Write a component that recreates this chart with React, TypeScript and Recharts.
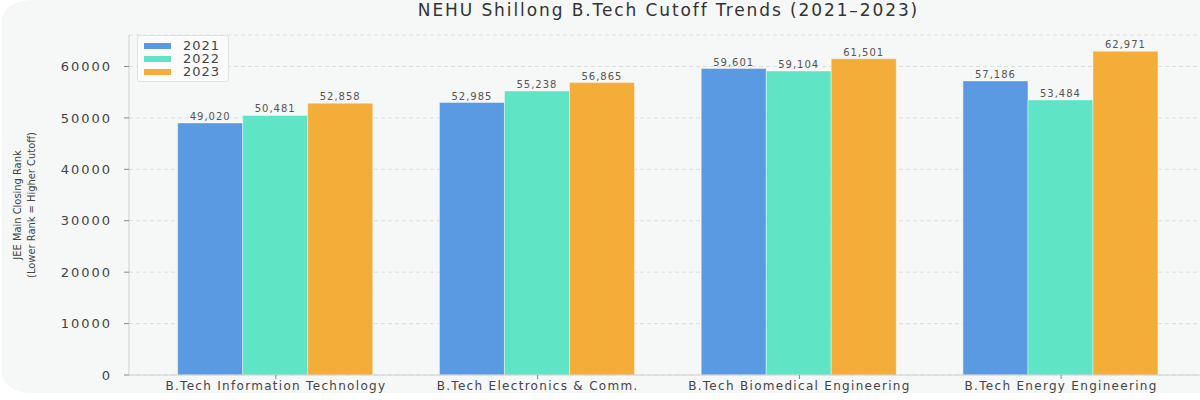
import { BarChart, Bar, XAxis, YAxis, CartesianGrid, LabelList } from "recharts"

const programs = [
  "B.Tech Information Technology",
  "B.Tech Electronics & Comm.",
  "B.Tech Biomedical Engineering",
  "B.Tech Energy Engineering",
]
const rank2021 = [49020, 52985, 59601, 57186]
const rank2022 = [50481, 55238, 59104, 53484]
const rank2023 = [52858, 56865, 61501, 62971]
const yTicks = [0, 10000, 20000, 30000, 40000, 50000, 60000]

const series = [
  { key: "y2021", name: "2021", color: "#5a9ae3" },
  { key: "y2022", name: "2022", color: "#60e4c6" },
  { key: "y2023", name: "2023", color: "#f4ad38" },
]

const data = programs.map((p, i) => ({
  name: p,
  y2021: rank2021[i],
  y2022: rank2022[i],
  y2023: rank2023[i],
}))

const FONT = "'DejaVu Sans', sans-serif"
const NARROW = "'Liberation Sans Narrow', 'DejaVu Sans Condensed', sans-serif"

function YLabel({ viewBox }: any) {
  const cy = viewBox ? viewBox.y + viewBox.height / 2 : 205
  return (
    <g>
      <text
        transform={`translate(21, ${cy}) rotate(-90)`}
        textAnchor="middle"
        fontSize={11}
        fill="#444"
        fontFamily={NARROW}
      >
        JEE Main Closing Rank
      </text>
      <text
        transform={`translate(35, ${cy}) rotate(-90)`}
        textAnchor="middle"
        fontSize={11}
        fill="#444"
        fontFamily={NARROW}
      >
        (Lower Rank = Higher Cutoff)
      </text>
    </g>
  )
}

function LegendBox() {
  return (
    <div
      style={{
        position: "absolute",
        left: 137,
        top: 35,
        background: "#fbfbfb",
        border: "1px solid #e2e2e2",
        borderRadius: 3,
        padding: "3px 8px 3px 6px",
        width: 76,
        fontFamily: FONT,
        fontSize: 13,
        letterSpacing: 1,
        color: "#444",
      }}
    >
      {series.map((s) => (
        <div key={s.key} style={{ display: "flex", alignItems: "center", height: 13 }}>
          <span style={{ width: 32, height: 6, background: s.color, display: "inline-block", marginRight: 12 }} />
          <span style={{ lineHeight: "13px" }}>{s.name}</span>
        </div>
      ))}
    </div>
  )
}

export default function App() {
  return (
    <div
      style={{
        position: "absolute",
        left: 0,
        top: 0,
        width: 1200,
        height: 400,
        overflow: "hidden",
        background: "#ffffff",
      }}
    >
      <div
        style={{
          position: "absolute",
          left: 2,
          top: 0,
          width: 1240,
          height: 393,
          background: "#f6f7f7",
          borderRadius: "30px / 20px",
        }}
      />
      <div
        style={{
          position: "absolute",
          left: 168.5,
          width: 1000,
          top: 0,
          textAlign: "center",
          fontFamily: FONT,
          fontSize: 17,
          letterSpacing: 1.9,
          color: "#333",
        }}
      >
        NEHU Shillong B.Tech Cutoff Trends (2021–2023)
      </div>
      <div style={{ position: "absolute", left: 0, top: 0 }}>
        <BarChart
          width={1220}
          height={400}
          data={data}
          margin={{ top: 35, right: 12, bottom: 0, left: 0 }}
          barCategoryGap="12.5%"
          barGap={0}
        >
          <CartesianGrid stroke="#dedede" strokeDasharray="4 3" vertical={false} />
          <XAxis
            dataKey="name"
            height={25}
            padding={{ left: 16, right: 16 }}
            tick={{ fill: "#444", fontSize: 12, fontFamily: FONT, letterSpacing: 1.3 }}
            tickSize={4}
            tickMargin={2}
            axisLine={{ stroke: "#cfcfcf" }}
            tickLine={{ stroke: "#888" }}
            interval={0}
          />
          <YAxis
            width={129}
            domain={[0, 66120]}
            ticks={yTicks}
            allowDataOverflow
            tick={{ fill: "#444", fontSize: 13, fontFamily: FONT, letterSpacing: 2 }}
            tickSize={5}
            tickMargin={12}
            axisLine={{ stroke: "#cfcfcf" }}
            tickLine={{ stroke: "#888" }}
            label={<YLabel />}
          />
          {series.map((s) => (
            <Bar
              key={s.key}
              dataKey={s.key}
              name={s.name}
              fill={s.color}
              stroke="#ffffff"
              strokeOpacity={0.5}
              strokeWidth={0.8}
              isAnimationActive={false}
            >
              <LabelList
                dataKey={s.key}
                position="top"
                offset={3}
                fontSize={10}
                fontFamily={FONT}
                letterSpacing={1}
                fill="#555"
                formatter={(v: any) => Number(v).toLocaleString("en-US")}
              />
            </Bar>
          ))}
        </BarChart>
      </div>
      <LegendBox />
    </div>
  )
}
